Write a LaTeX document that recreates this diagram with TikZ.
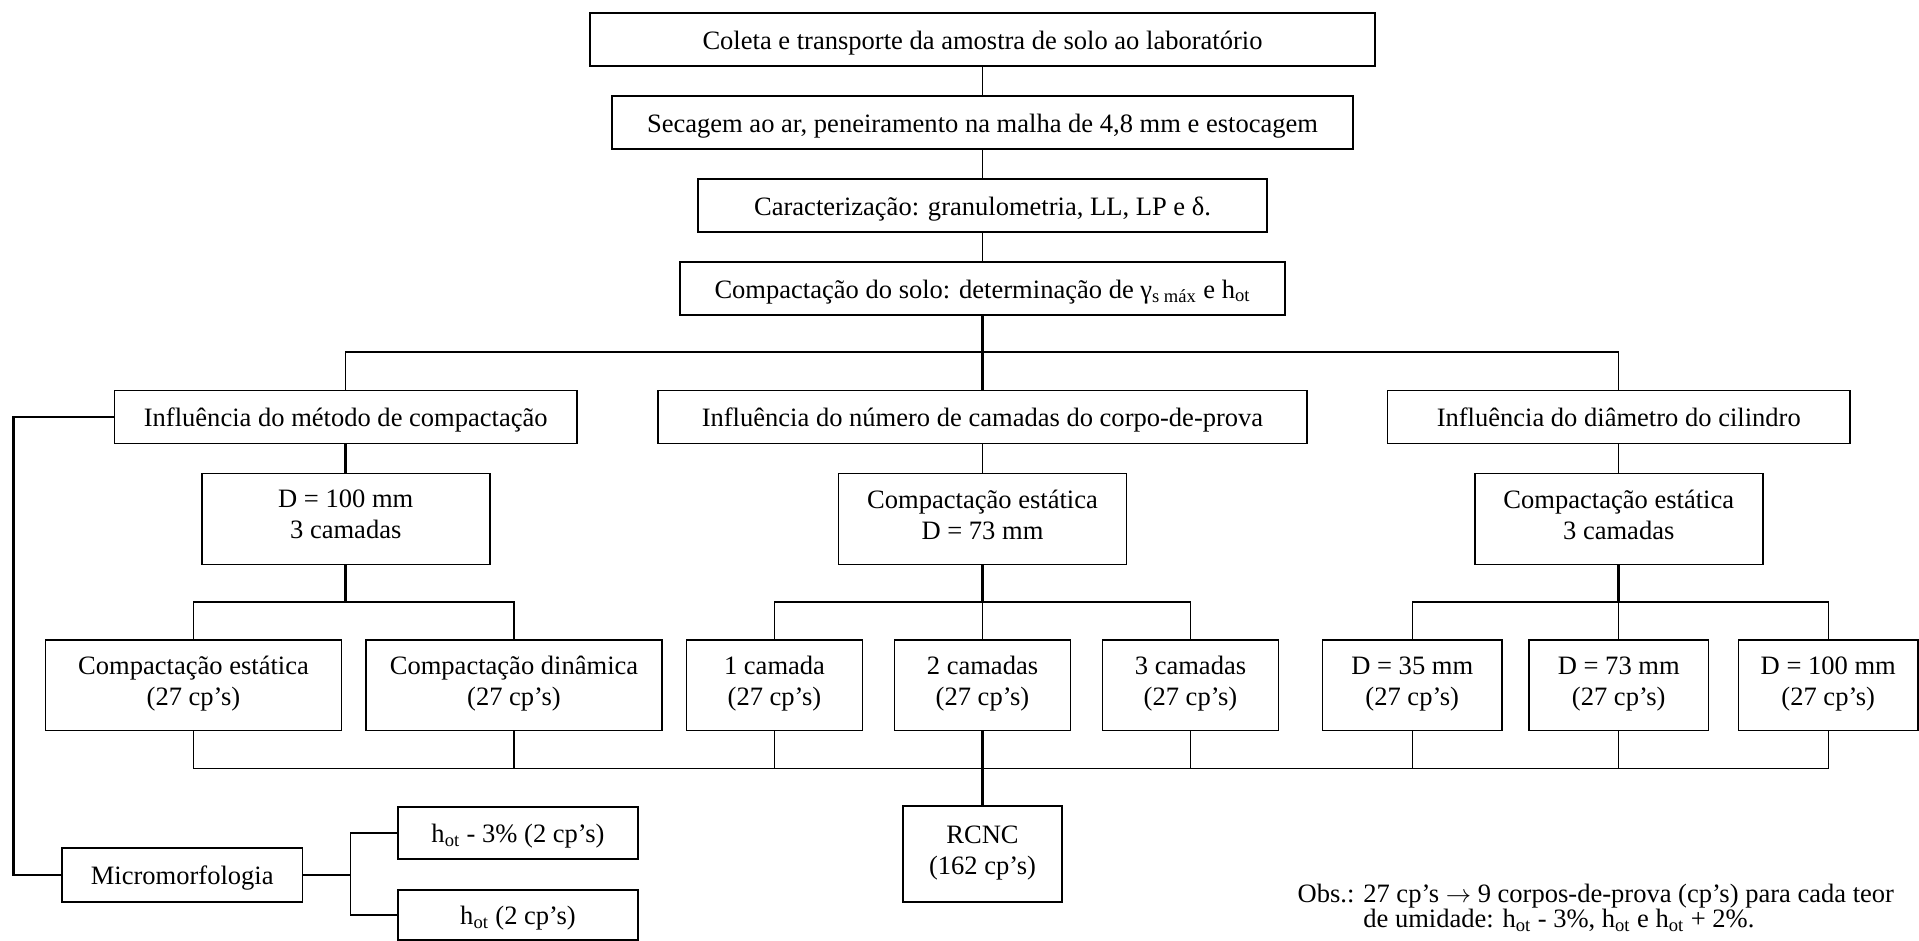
\documentclass[tikz,border=0pt]{standalone}
\usepackage{fontspec}
\setmainfont{Liberation Serif}
\usetikzlibrary{positioning, calc}

\begin{document}
\begin{tikzpicture}[
    auto,
    node distance=0.6cm,
    line width=0.8pt,
    box/.style={draw, rectangle, line width=1pt, outer sep=0pt, minimum height=1.06cm, inner sep=0pt, fill=white, align=center,
        font=\fontsize{15.1}{17.6}\selectfont,
        execute at begin node=\rule[-3.1pt]{0pt}{17.6pt}, execute at end node=\rule[-3.1pt]{0pt}{17.6pt}},
    tall/.style={box, minimum height=1.82cm,
        execute at begin node=\rule[-5.1pt]{0pt}{17.6pt}, execute at end node=\rule[-5.1pt]{0pt}{17.6pt}},
    trunk/.style={line width=1.5pt}
]
    \useasboundingbox (0,0) rectangle (38.38,-18.82);

    % Preparation of the soil
    \node[box, minimum width=15.69cm] (coleta) at (19.65,-0.784) {Coleta e transporte da amostra de solo ao laboratório};
    \node[box, minimum width=14.82cm, below=of coleta] (secagem) {Secagem ao ar, peneiramento na malha de 4,8 mm e estocagem};
    \node[box, minimum width=11.37cm, below=of secagem] (carac) {Caracterização: granulometria, LL, LP e δ.};
    \node[box, minimum width=12.10cm, below=of carac] (solo) {Compactação do solo: determinação de γ\textsubscript{s máx} e h\textsubscript{ot}};

    \draw (coleta) -- (secagem);
    \draw (secagem) -- (carac);
    \draw (carac) -- (solo);

    % The three studies
    \node[box, minimum width=12.98cm, below=1.514cm of solo] (numero) {Influência do número de camadas do corpo-de-prova};
    \node[box, minimum width=9.25cm, left=1.62cm of numero] (metodo) {Influência do método de compactação};
    \node[box, minimum width=9.25cm, right=1.61cm of numero] (diametro) {Influência do diâmetro do cilindro};

    \draw[trunk] (solo) -- (numero);
    \coordinate (bus1) at ($(solo.south)+(0,-0.746)$);
    \draw (metodo.north) |- (bus1) -| (diametro.north);

    % Fixed conditions of each study
    \node[tall, minimum width=5.76cm, below=of metodo] (fixmet) {D = 100 mm\\3 camadas};
    \node[tall, minimum width=5.76cm, below=of numero] (fixnum) {Compactação estática\\D = 73 mm};
    \node[tall, minimum width=5.76cm, below=of diametro] (fixdia) {Compactação estática\\3 camadas};

    \draw[trunk] (metodo) -- (fixmet);
    \draw (numero) -- (fixnum);
    \draw (diametro) -- (fixdia);

    % Test series
    \node[tall, minimum width=3.52cm, minimum height=1.81cm, below=1.514cm of fixnum] (cam2) {2 camadas\\(27 cp’s)};
    \node[tall, minimum width=3.52cm, minimum height=1.81cm, left=0.64cm of cam2] (cam1) {1 camada\\(27 cp’s)};
    \node[tall, minimum width=3.52cm, minimum height=1.81cm, right=0.64cm of cam2] (cam3) {3 camadas\\(27 cp’s)};
    \node[tall, minimum width=5.92cm, minimum height=1.81cm, left=0.49cm of cam1] (cd) {Compactação dinâmica\\(27 cp’s)};
    \node[tall, minimum width=5.92cm, minimum height=1.81cm, left=0.49cm of cd] (ce) {Compactação estática\\(27 cp’s)};
    \node[tall, minimum width=3.59cm, minimum height=1.81cm, below=1.514cm of fixdia] (d73) {D = 73 mm\\(27 cp’s)};
    \node[tall, minimum width=3.59cm, minimum height=1.81cm, left=0.54cm of d73] (d35) {D = 35 mm\\(27 cp’s)};
    \node[tall, minimum width=3.59cm, minimum height=1.81cm, right=0.6cm of d73] (d100) {D = 100 mm\\(27 cp’s)};

    \foreach \fix/\a/\b in {fixmet/ce/cd, fixnum/cam1/cam3, fixdia/d35/d100} {
        \draw[trunk] (\fix.south) -- ++(0,-0.754) coordinate (b\fix);
        \draw (\a.north) |- (b\fix) -| (\b.north);
    }
    \draw (fixnum) -- (cam2);
    \draw (fixdia) -- (d73);

    % Gathering of all series
    \node[tall, minimum width=3.18cm, minimum height=1.92cm, below=1.514cm of cam2] (rcnc) {RCNC\\(162 cp’s)};

    \coordinate (bus3) at ($(cam2.south)+(0,-0.754)$);
    \draw (ce.south) |- (bus3) -| (d100.south);
    \foreach \n in {cd, cam1, cam3, d35, d73}
        \draw (\n.south) -- (\n.south |- bus3);
    \draw[trunk] (cam2) -- (rcnc);

    % Micromorphology branch
    \node[box, minimum width=4.81cm, minimum height=1.07cm] (micro) at (3.645,-17.5) {Micromorfologia};
    \node[box, minimum width=4.8cm, minimum height=1.05cm, right=1.91cm of micro, yshift=0.84cm] (hot3) {h\textsubscript{ot} - 3\% (2 cp’s)};
    \node[box, minimum width=4.8cm, minimum height=1.0cm, right=1.91cm of micro, yshift=-0.8cm] (hot) {h\textsubscript{ot} (2 cp’s)};

    \draw[trunk] (metodo.west) -- ++(-2.02,0) |- (micro.west);
    \draw[trunk] (micro.east) -- ++(0.956,0) coordinate (mfork);
    \draw (hot3.west) -| (mfork) |- (hot.west);

    % Note
    \node[anchor=north west, align=left, inner sep=0pt, font=\fontsize{15.1}{14.2}\selectfont] (obs) at (25.94,-17.67)
        {Obs.: 27 cp’s $\rightarrow$ 9 corpos-de-prova (cp’s) para cada teor\\\phantom{Obs.: }de umidade: h\textsubscript{ot} - 3\%, h\textsubscript{ot} e h\textsubscript{ot} + 2\%.};

\end{tikzpicture}
\end{document}
